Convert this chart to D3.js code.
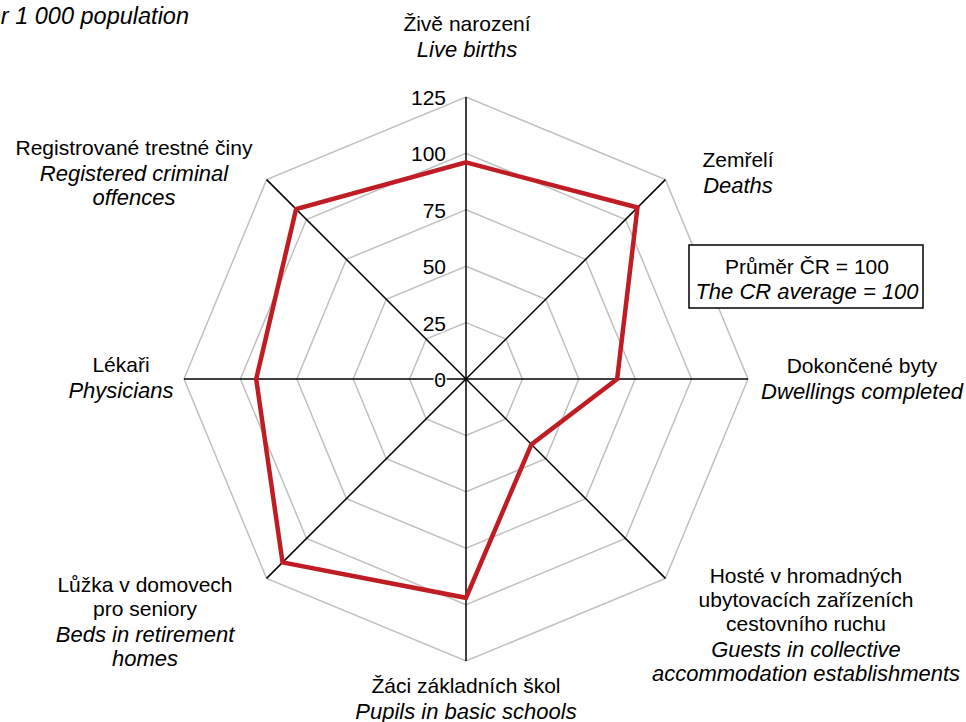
<!DOCTYPE html>
<html>
<head>
<meta charset="utf-8">
<script src="https://cdn.jsdelivr.net/npm/d3@7"></script>
<style>
  body { margin: 0; background: #fff; }
  svg text { font-family: "Liberation Sans", Arial, sans-serif; fill: #000; }
</style>
</head>
<body>
<div id="chart"></div>
<script>
// indicators, clockwise from the top
const labelsCz = [
    ["Živě narození"],
    ["Zemřelí"],
    ["Dokončené byty"],
    ["Hosté v hromadných", "ubytovacích zařízeních", "cestovního ruchu"],
    ["Žáci základních škol"],
    ["Lůžka v domovech", "pro seniory"],
    ["Lékaři"],
    ["Registrované trestné činy"]
];
const labelsEn = [
    ["Live births"],
    ["Deaths"],
    ["Dwellings completed"],
    ["Guests in collective", "accommodation establishments"],
    ["Pupils in basic schools"],
    ["Beds in retirement", "homes"],
    ["Physicians"],
    ["Registered criminal", "offences"]
];
const values = [96, 107.5, 67, 41, 97, 115, 93, 106.5];
const ticks = [0, 25, 50, 75, 100, 125];

const width = 966, height = 722;
const cx = 466, cy = 379, R = 282;

const svg = d3.select("#chart").append("svg").attr("width", width).attr("height", height);

const r = d3.scaleLinear().domain([0, 125]).range([0, R]);
const angle = i => i * 2 * Math.PI / values.length;
const px = (i, v) => cx + r(v) * Math.sin(angle(i));
const py = (i, v) => cy - r(v) * Math.cos(angle(i));

// gray octagons
ticks.slice(1).forEach(t => {
    svg.append("polygon")
        .attr("points", values.map((d, i) => [px(i, t), py(i, t)].join(",")).join(" "))
        .attr("fill", "none").attr("stroke", "#c0c0c0").attr("stroke-width", 1.5);
});

// radial axes
values.forEach((d, i) => {
    svg.append("line")
        .attr("x1", cx).attr("y1", cy)
        .attr("x2", px(i, 125)).attr("y2", py(i, 125))
        .attr("stroke", "#000").attr("stroke-width", 1.5);
});

// tick labels on the top axis
ticks.forEach(t => {
    svg.append("text")
        .attr("x", cx - 20).attr("y", py(0, t) + 8)
        .attr("text-anchor", "end").attr("font-size", "21px")
        .style("paint-order", "stroke").style("stroke", "#fff").style("stroke-width", 3)
        .text(t);
});

// data line
const line = d3.line().curve(d3.curveLinearClosed);
svg.append("path")
    .attr("d", line(values.map((v, i) => [px(i, v), py(i, v)])))
    .attr("fill", "none").attr("stroke", "#c01c24").attr("stroke-width", 4.5)
    .attr("stroke-linejoin", "miter");

// category labels: [x centre, first baseline]
const labelPos = [
    [467, 31], [738, 167], [862, 373], [806, 583],
    [466, 693], [145, 592], [121, 372], [134, 155]
];
labelPos.forEach((p, i) => {
    const lines = labelsCz[i].map(s => ({ s, it: false }))
        .concat(labelsEn[i].map(s => ({ s, it: true })));
    const txt = svg.append("text")
        .attr("x", p[0]).attr("y", p[1])
        .attr("text-anchor", "middle").attr("font-size", "21px");
    lines.forEach((l, k) => {
        txt.append("tspan")
            .attr("x", p[0])
            .attr("dy", k === 0 ? 0 : (l.it && !lines[k - 1].it ? 26 : 24))
            .style("font-style", l.it ? "italic" : "normal")
            .style("font-size", l.it ? "22px" : "21px")
            .text(l.s);
    });
});

// average box
svg.append("rect")
    .attr("x", 689).attr("y", 245).attr("width", 234).attr("height", 63)
    .attr("fill", "#fff").attr("stroke", "#000").attr("stroke-width", 1.5);
svg.append("text").attr("x", 807).attr("y", 274)
    .attr("text-anchor", "middle").attr("font-size", "21px").text("Průměr ČR = 100");
svg.append("text").attr("x", 807).attr("y", 299)
    .attr("text-anchor", "middle").attr("font-size", "22px").style("font-style", "italic")
    .text("The CR average = 100");

// unit title (cut at the left edge)
svg.append("text").attr("x", 189).attr("y", 24)
    .attr("text-anchor", "end").attr("font-size", "23.5px").style("font-style", "italic")
    .text("Per 1 000 population");
</script>
</body>
</html>
